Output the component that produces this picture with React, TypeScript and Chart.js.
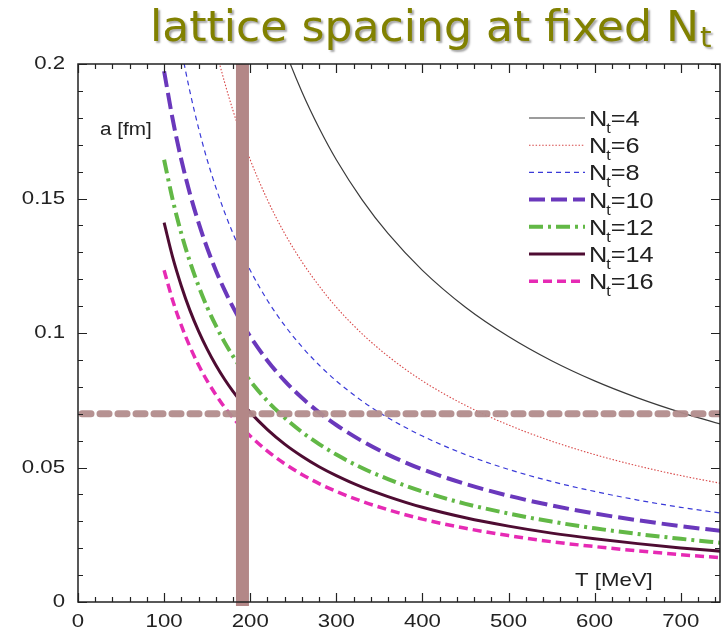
import React, { useEffect, useRef } from "react";
import { Chart, registerables } from "chart.js";

Chart.register(...registerables);

// Temperature grid (MeV)
const T_VALUES = [100, 110, 120, 130, 140, 150, 160, 170, 180, 190, 200, 220, 240, 260, 280, 300, 330, 360, 400, 450, 500, 550, 600, 650, 700, 750];

// lattice spacing a [fm] read for each N_t
const A_NT4 = [0.4933, 0.4485, 0.4111, 0.3795, 0.3524, 0.3289, 0.3083, 0.2902, 0.2741, 0.2596, 0.2467, 0.2242, 0.2055, 0.1897, 0.1762, 0.1644, 0.1495, 0.137, 0.1233, 0.1096, 0.0987, 0.0897, 0.0822, 0.0759, 0.0705, 0.0658];
const A_NT6 = [0.3289, 0.299, 0.2741, 0.253, 0.2349, 0.2193, 0.2056, 0.1935, 0.1827, 0.1731, 0.1644, 0.1495, 0.137, 0.1265, 0.1175, 0.1096, 0.0997, 0.0914, 0.0822, 0.0731, 0.0658, 0.0598, 0.0548, 0.0506, 0.047, 0.0439];
const A_NT8 = [0.2467, 0.2242, 0.2056, 0.1897, 0.1762, 0.1644, 0.1542, 0.1451, 0.137, 0.1298, 0.1233, 0.1121, 0.1028, 0.0949, 0.0881, 0.0822, 0.0747, 0.0685, 0.0617, 0.0548, 0.0493, 0.0448, 0.0411, 0.0379, 0.0352, 0.0329];
const A_NT10 = [0.1973, 0.1794, 0.1644, 0.1518, 0.141, 0.1316, 0.1233, 0.1161, 0.1096, 0.1039, 0.0987, 0.0897, 0.0822, 0.0759, 0.0705, 0.0658, 0.0598, 0.0548, 0.0493, 0.0439, 0.0395, 0.0359, 0.0329, 0.0304, 0.0282, 0.0263];
const A_NT12 = [0.1644, 0.1495, 0.137, 0.1265, 0.1175, 0.1096, 0.1028, 0.0967, 0.0914, 0.0865, 0.0822, 0.0747, 0.0685, 0.0632, 0.0587, 0.0548, 0.0498, 0.0457, 0.0411, 0.0365, 0.0329, 0.0299, 0.0274, 0.0253, 0.0235, 0.0219];
const A_NT14 = [0.141, 0.1281, 0.1175, 0.1084, 0.1007, 0.094, 0.0881, 0.0829, 0.0783, 0.0742, 0.0705, 0.0641, 0.0587, 0.0542, 0.0503, 0.047, 0.0427, 0.0392, 0.0352, 0.0313, 0.0282, 0.0256, 0.0235, 0.0217, 0.0201, 0.0188];
const A_NT16 = [0.1233, 0.1121, 0.1028, 0.0949, 0.0881, 0.0822, 0.0771, 0.0725, 0.0685, 0.0649, 0.0617, 0.0561, 0.0514, 0.0474, 0.044, 0.0411, 0.0374, 0.0343, 0.0308, 0.0274, 0.0247, 0.0224, 0.0206, 0.019, 0.0176, 0.0164];

const NT_LABELS = ["4", "6", "8", "10", "12", "14", "16"];
const X_TICK_LABELS = [0, 100, 200, 300, 400, 500, 600, 700];
const Y_TICK_LABELS = [0, 0.05, 0.1, 0.15, 0.2];

// reference markers
const T_MARK = 191;
const A_MARK = 0.07;

const TITLE = "lattice spacing at fixed N";
const TITLE_SUB = "t";

type Style = { color: string; width: number; dash: number[]; cap: CanvasLineCap };
const STYLES: Style[] = [
  { color: "#3a3a3a", width: 1.2, dash: [], cap: "butt" },
  { color: "#d84848", width: 1.1, dash: [1.5, 1.8], cap: "butt" },
  { color: "#3a3ad8", width: 1.2, dash: [5, 4], cap: "butt" },
  { color: "#6a38bc", width: 4, dash: [16, 6], cap: "butt" },
  { color: "#62b846", width: 4, dash: [14, 5, 3, 5], cap: "butt" },
  { color: "#4e0c32", width: 3, dash: [], cap: "butt" },
  { color: "#e62ab4", width: 3.5, dash: [9, 5], cap: "butt" },
];
const SERIES = [A_NT4, A_NT6, A_NT8, A_NT10, A_NT12, A_NT14, A_NT16];

function stretchText(ctx: CanvasRenderingContext2D, text: string, x: number, y: number, sx: number) {
  ctx.save();
  ctx.translate(x, y);
  ctx.scale(sx, 1);
  ctx.fillText(text, 0, 0);
  ctx.restore();
}

const decorPlugin = {
  id: "decor",
  afterDatasetsDraw(chart: any) {
    const ctx: CanvasRenderingContext2D = chart.ctx;
    const xs = chart.scales.x;
    const ys = chart.scales.y;
    const area = chart.chartArea;
    ctx.save();
    ctx.beginPath();
    ctx.rect(area.left, area.top - 2, area.right - area.left, area.bottom - area.top + 6);
    ctx.clip();
    // horizontal dashed band
    const yy = ys.getPixelForValue(A_MARK);
    ctx.strokeStyle = "rgba(178,140,140,0.95)";
    ctx.lineWidth = 7;
    ctx.lineCap = "round";
    ctx.setLineDash([9, 9]);
    ctx.beginPath();
    ctx.moveTo(area.left + 4, yy);
    ctx.lineTo(area.right, yy);
    ctx.stroke();
    // vertical band
    const xx = xs.getPixelForValue(T_MARK);
    ctx.fillStyle = "#b38787";
    ctx.fillRect(xx - 6.5, area.top, 13, area.bottom - area.top + 4);
    ctx.restore();
  },
  afterDraw(chart: any) {
    const ctx: CanvasRenderingContext2D = chart.ctx;
    const xs = chart.scales.x;
    const ys = chart.scales.y;
    const a = chart.chartArea;
    ctx.save();
    ctx.setLineDash([]);
    // frame
    ctx.strokeStyle = "#222";
    ctx.lineWidth = 1.5;
    ctx.strokeRect(a.left, a.top, a.right - a.left, a.bottom - a.top);
    // ticks
    ctx.lineWidth = 1.2;
    ctx.beginPath();
    for (let v = 0; v <= xs.max + 0.001; v += 20) {
      const px = Math.round(xs.getPixelForValue(v)) + 0.5;
      const len = v % 100 === 0 ? 9 : 5;
      ctx.moveTo(px, a.bottom);
      ctx.lineTo(px, a.bottom - len);
      ctx.moveTo(px, a.top);
      ctx.lineTo(px, a.top + len);
    }
    for (let i = 0; i <= 20; i++) {
      const v = i * 0.01;
      const py = Math.round(ys.getPixelForValue(v)) + 0.5;
      const len = i % 5 === 0 ? 9 : 5;
      ctx.moveTo(a.left, py);
      ctx.lineTo(a.left + len, py);
      ctx.moveTo(a.right, py);
      ctx.lineTo(a.right - len, py);
    }
    ctx.stroke();

    // tick labels
    ctx.fillStyle = "#222";
    ctx.font = "18.5px 'Liberation Sans', Arial, sans-serif";
    ctx.textBaseline = "middle";
    ctx.textAlign = "center";
    X_TICK_LABELS.forEach((v) => {
      stretchText(ctx, String(v), xs.getPixelForValue(v), a.bottom + 20, 1.2);
    });
    ctx.textAlign = "right";
    Y_TICK_LABELS.forEach((v) => {
      stretchText(ctx, String(v), a.left - 13, ys.getPixelForValue(v), 1.2);
    });

    // axis titles
    ctx.textAlign = "left";
    ctx.textBaseline = "alphabetic";
    ctx.font = "18px 'Liberation Sans', Arial, sans-serif";
    stretchText(ctx, "a [fm]", 100, 135, 1.15);
    ctx.font = "18.5px 'Liberation Sans', Arial, sans-serif";
    stretchText(ctx, "T [MeV]", 575, 586, 1.2);

    // legend
    const lx0 = 529, lx1 = 585, tx = 589;
    NT_LABELS.forEach((lab, i) => {
      const y = 118 + i * 27.2;
      const s = STYLES[i];
      ctx.strokeStyle = s.color;
      ctx.lineWidth = s.width;
      ctx.lineCap = s.cap;
      ctx.setLineDash(s.dash);
      ctx.beginPath();
      ctx.moveTo(lx0, y);
      ctx.lineTo(lx1, y);
      ctx.stroke();
      ctx.setLineDash([]);
      ctx.fillStyle = "#222";
      ctx.font = "22px 'Liberation Sans', Arial, sans-serif";
      ctx.textBaseline = "alphabetic";
      const base = y + 8;
      const wN = ctx.measureText("N").width * 1.15;
      stretchText(ctx, "N", tx, base, 1.15);
      ctx.font = "14px 'Liberation Sans', Arial, sans-serif";
      const wt = ctx.measureText("t").width * 1.15;
      stretchText(ctx, "t", tx + wN - 1, base + 7, 1.15);
      ctx.font = "22px 'Liberation Sans', Arial, sans-serif";
      stretchText(ctx, "=" + lab, tx + wN + wt - 1, base, 1.15);
    });

    // title
    ctx.font = "42px 'DejaVu Sans', sans-serif";
    ctx.textAlign = "left";
    ctx.textBaseline = "alphabetic";
    ctx.shadowColor = "rgba(0,0,0,0.35)";
    ctx.shadowOffsetX = 2;
    ctx.shadowOffsetY = 2;
    ctx.shadowBlur = 2;
    ctx.fillStyle = "#818100";
    const sx = 1.05;
    stretchText(ctx, TITLE, 150, 41, sx);
    const tw = ctx.measureText(TITLE).width * sx;
    ctx.font = "28px 'DejaVu Sans', sans-serif";
    stretchText(ctx, TITLE_SUB, 150 + tw + 1, 47, sx);
    ctx.restore();
  },
};

export default function App() {
  const ref = useRef<HTMLCanvasElement | null>(null);
  useEffect(() => {
    if (!ref.current) return;
    const chart = new Chart(ref.current, {
      type: "line",
      data: {
        datasets: SERIES.map((arr, i) => ({
          label: "N_t=" + NT_LABELS[i],
          data: T_VALUES.map((t, j) => ({ x: t, y: arr[j] })),
          borderColor: STYLES[i].color,
          borderWidth: STYLES[i].width,
          borderDash: STYLES[i].dash,
          borderCapStyle: STYLES[i].cap,
          pointRadius: 0,
          fill: false,
          cubicInterpolationMode: "monotone" as const,
        })),
      },
      options: {
        responsive: false,
        animation: false,
        devicePixelRatio: 1,
        layout: { padding: { left: 78, right: 3, top: 64, bottom: 28 } },
        plugins: { legend: { display: false }, tooltip: { enabled: false }, title: { display: false } },
        scales: {
          x: { type: "linear", min: 0, max: 745.6, display: false },
          y: { type: "linear", min: 0, max: 0.2, display: false },
        },
        events: [],
      },
      plugins: [decorPlugin],
    });
    return () => chart.destroy();
  }, []);
  return (
    <div style={{ position: "fixed", left: 0, top: 0, width: 723, height: 630, background: "#fff" }}>
      <canvas ref={ref} width={723} height={630} style={{ display: "block" }} />
    </div>
  );
}
